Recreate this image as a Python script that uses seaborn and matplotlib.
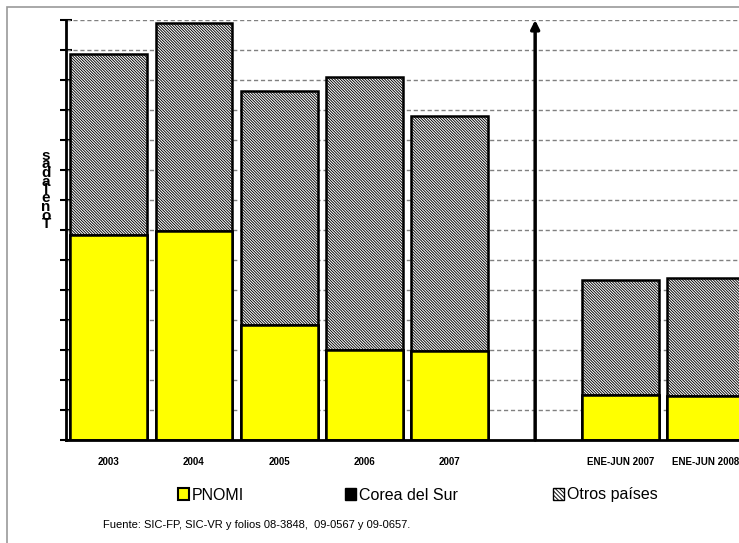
import pandas as pd
import seaborn as sns
import matplotlib.pyplot as plt
from matplotlib.patches import Patch, Rectangle

# data (no y tick labels; units = gridline steps)
categories = ["2003", "2004", "2005", "2006", "2007", " ", "ENE-JUN 2007", "ENE-JUN 2008"]
pnomi = [6.83, 6.97, 3.83, 3.0, 2.97, 0, 1.5, 1.47]
corea = [0, 0, 0, 0, 0, 0, 0, 0]
otros = [6.04, 6.93, 7.8, 9.1, 7.83, 0, 3.83, 3.93]

df = pd.DataFrame({"cat": categories, "PNOMI": pnomi, "Corea": corea, "Otros": otros})
df["total"] = df["PNOMI"] + df["Corea"] + df["Otros"]
df["pc"] = df["PNOMI"] + df["Corea"]

sns.set_style("white")
plt.rcParams["font.family"] = ["Liberation Sans", "DejaVu Sans"]
plt.rcParams["hatch.linewidth"] = 0.65
plt.rcParams["text.color"] = "black"
plt.rcParams["xtick.color"] = "black"
plt.rcParams["ytick.color"] = "black"

fig = plt.figure(figsize=(7.39, 5.43), dpi=100)
ax = fig.add_axes([66 / 739, 103 / 543, 682.4 / 739, 420 / 543])

# outer frame
fig.patches.append(Rectangle((7 / 739, -0.05), 1.1, 1 - 7 / 543 + 0.05, transform=fig.transFigure,
                             fill=False, edgecolor="#999999", lw=1.2, zorder=0))

hatch = "\\" * 12

# stacked bars: totals hatched, then Corea, then PNOMI on top
sns.barplot(data=df, x="cat", y="total", order=categories, color="white", width=0.9,
            saturation=1, edgecolor="black", linewidth=1.8, ax=ax, zorder=2)
for p in ax.patches:
    p.set_hatch(hatch)
sns.barplot(data=df, x="cat", y="pc", order=categories, color="black", width=0.9,
            saturation=1, edgecolor="black", linewidth=1.8, ax=ax, zorder=2)
sns.barplot(data=df, x="cat", y="PNOMI", order=categories, color="#FFFF00", width=0.9,
            saturation=1, edgecolor="black", linewidth=1.8, ax=ax, zorder=2)
for p in ax.patches:
    if p.get_height() == 0:
        p.set_visible(False)

ax.set_ylim(0, 14)
ax.set_xlim(-0.5, 7.5)
ax.set_yticks(range(0, 15))
ax.set_yticklabels([])
ax.set_xticks([i - 0.5 for i in range(8)], minor=False)
ax.set_xticklabels([])
ax.set_xticks(range(8), minor=True)
ax.set_xticklabels(categories, minor=True, fontsize=7, fontweight="bold", color="black")
ax.tick_params(axis="x", which="minor", length=0, pad=12)
ax.tick_params(axis="x", which="major", direction="inout", length=5, width=1.5, color="black")
ax.tick_params(axis="y", direction="inout", length=9, width=1.5, color="black", left=True)
ax.set_xlabel("")
ax.set_ylabel("")

for y in range(1, 15):
    ax.axhline(y, color="#808080", lw=1, ls=(0, (3, 2)), zorder=1)

for s in ["top", "right"]:
    ax.spines[s].set_visible(False)
for s in ["left", "bottom"]:
    ax.spines[s].set_color("black")
    ax.spines[s].set_linewidth(2)

# separator arrow
ax.annotate("", xy=(5, 14), xytext=(5, 0),
            arrowprops=dict(arrowstyle="-|>,head_length=0.5,head_width=0.25", lw=2.5,
                            color="black", shrinkA=0, shrinkB=0),
            zorder=3)

# y label written as stacked letters
fig.text(46 / 739, 1 - 190 / 543, "\n".join(reversed("Toneladas")), ha="center", va="center",
         fontsize=11, fontweight="bold", linespacing=0.5)

legend_items = [
    (Patch(facecolor="#FFFF00", edgecolor="black", linewidth=1.5), "PNOMI", 178),
    (Patch(facecolor="black", edgecolor="black"), "Corea del Sur", 345),
    (Patch(facecolor="white", edgecolor="black", hatch="\\" * 8), "Otros países", 553),
]
for h, lab, xpx in legend_items:
    fig.legend(handles=[h], labels=[lab], loc="center left",
               bbox_to_anchor=(xpx / 739, 1 - 495 / 543), borderpad=0, borderaxespad=0,
               frameon=False, fontsize=11.5, handlelength=0.7, handleheight=0.7,
               handletextpad=0.15, labelcolor="black")

fig.text(103 / 739, 1 - 525 / 543, "Fuente: SIC-FP, SIC-VR y folios 08-3848,  09-0567 y 09-0657.",
         fontsize=8, ha="left", va="center", color="black")

fig.savefig("out.png", dpi=100)
